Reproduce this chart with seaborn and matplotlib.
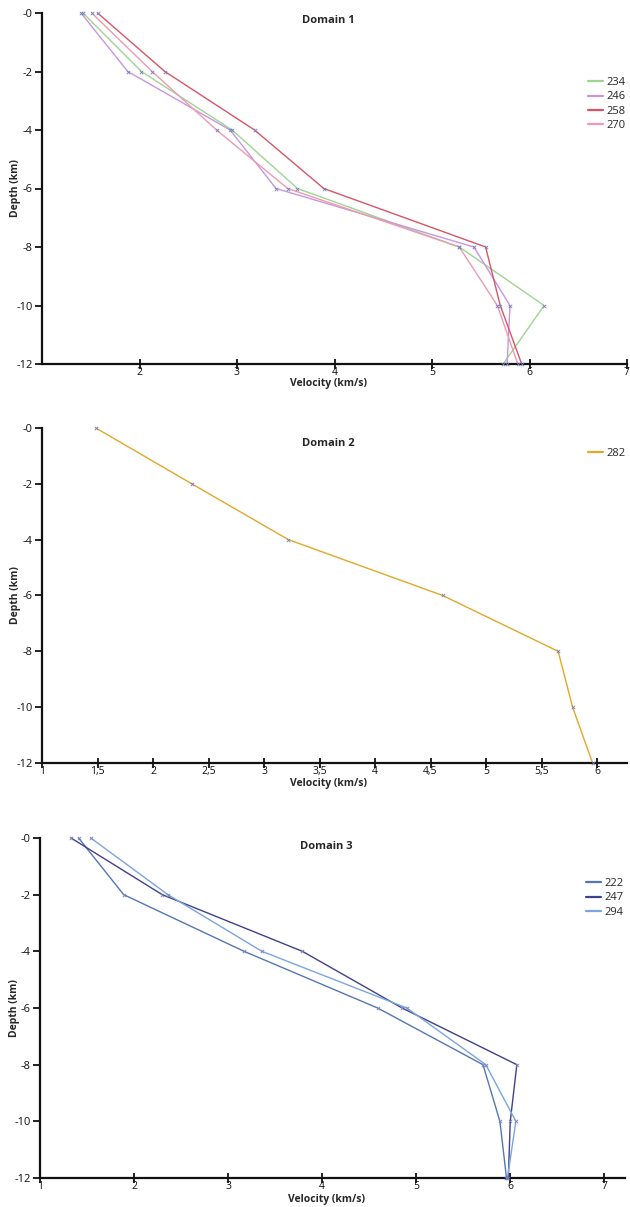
import numpy as np
import pandas as pd
import matplotlib
matplotlib.use("Agg")
import matplotlib.pyplot as plt
import seaborn as sns

sns.set_theme(style="white")
plt.rcParams["font.family"] = ["Open Sans", "DejaVu Sans"]

# Depth of each velocity sample (km, negative downwards)
depths = [0, -2, -4, -6, -8, -10, -12]
depth_ticks = [0, -2, -4, -6, -8, -10, -12]
depth_tick_labels = ["-0", "-2", "-4", "-6", "-8", "-10", "-12"]

# Domain 1 velocity profiles (km/s)
d1_names = ["234", "246", "258", "270"]
d1_234 = [1.42, 2.02, 2.95, 3.62, 5.28, 6.15, 5.73]
d1_246 = [1.40, 1.88, 2.93, 3.40, 5.43, 5.80, 5.77]
d1_258 = [1.57, 2.26, 3.18, 3.89, 5.55, 5.70, 5.92]
d1_270 = [1.51, 2.13, 2.79, 3.52, 5.28, 5.67, 5.88]
d1_colors = ["#9fd58f", "#c995e0", "#d85565", "#ee9ab0"]
d1_xticks = [2, 3, 4, 5, 6, 7]
d1_xtick_labels = ["2", "3", "4", "5", "6", "7"]

# Domain 2 velocity profile (km/s)
d2_names = ["282"]
d2_282 = [1.485, 2.35, 3.22, 4.61, 5.65, 5.78, 5.96]
d2_colors = ["#e3a72a"]
d2_xticks = [1, 1.5, 2, 2.5, 3, 3.5, 4, 4.5, 5, 5.5, 6]
d2_xtick_labels = ["1", "1,5", "2", "2,5", "3", "3,5", "4", "4,5", "5", "5,5", "6"]

# Domain 3 velocity profiles (km/s)
d3_names = ["222", "247", "294"]
d3_222 = [1.41, 1.89, 3.17, 4.59, 5.71, 5.89, 5.96]
d3_247 = [1.33, 2.30, 3.79, 4.85, 6.07, 6.00, 5.98]
d3_294 = [1.54, 2.36, 3.36, 4.90, 5.74, 6.06, 5.97]
d3_colors = ["#5576b5", "#40408e", "#79a6de"]
d3_xticks = [1, 2, 3, 4, 5, 6, 7]
d3_xtick_labels = ["1", "2", "3", "4", "5", "6", "7"]

marker_color = "#7380bd"

fig = plt.figure(figsize=(6.3, 12.07), dpi=100)
W, H = 630, 1207


def axes_px(left, top, right, bottom):
    return fig.add_axes([left / W, 1 - bottom / H, (right - left) / W, (bottom - top) / H])


panels = [
    dict(ax=axes_px(42, 13, 627, 364), title="Domain 1", names=d1_names,
         series=[d1_234, d1_246, d1_258, d1_270], colors=d1_colors,
         xlim=(1, 7), xticks=d1_xticks, xlabels=d1_xtick_labels,
         title_pos=(0.49, 0.98), leg_anchor=(0.925, 0.83),
         xlab_y=-0.056, ylab_x=-0.046),
    dict(ax=axes_px(42, 428, 627, 763), title="Domain 2", names=d2_names,
         series=[d2_282], colors=d2_colors,
         xlim=(1, 6.27), xticks=d2_xticks, xlabels=d2_xtick_labels,
         title_pos=(0.49, 0.955), leg_anchor=(0.925, 0.955),
         xlab_y=-0.062, ylab_x=-0.046),
    dict(ax=axes_px(40, 838, 625, 1178), title="Domain 3", names=d3_names,
         series=[d3_222, d3_247, d3_294], colors=d3_colors,
         xlim=(1, 7.22), xticks=d3_xticks, xlabels=d3_xtick_labels,
         title_pos=(0.49, 0.975), leg_anchor=(0.925, 0.895),
         xlab_y=-0.062, ylab_x=-0.044),
]

for p in panels:
    ax = p["ax"]
    frames = []
    for name, vel in zip(p["names"], p["series"]):
        frames.append(pd.DataFrame({"velocity": vel, "depth": depths, "station": name}))
    df = pd.concat(frames, ignore_index=True)

    sns.lineplot(data=df, x="velocity", y="depth", hue="station",
                 palette=dict(zip(p["names"], p["colors"])), sort=False,
                 estimator=None, linewidth=1.0, ax=ax, clip_on=False)
    sns.scatterplot(data=df, x="velocity", y="depth", marker="x", s=6,
                    color=marker_color, linewidth=0.6, ax=ax, clip_on=False,
                    legend=False, zorder=3)

    ax.set_xlim(*p["xlim"])
    ax.set_ylim(-12, 0)
    ax.set_yticks(depth_ticks)
    ax.set_yticklabels(depth_tick_labels)
    ax.set_xticks(p["xticks"])
    ax.set_xticklabels(p["xlabels"])

    for side in ("top", "right"):
        ax.spines[side].set_visible(False)
    for side in ("left", "bottom"):
        ax.spines[side].set_color("#111111")
        ax.spines[side].set_linewidth(1.6)

    ax.tick_params(axis="y", direction="out", length=5, width=1.3,
                   labelsize=8, pad=1.5, colors="#111111", left=True)
    ax.tick_params(axis="x", direction="inout", length=7, width=1.3,
                   labelsize=7.5, pad=-1.5, colors="#111111", bottom=True)

    ax.set_xlabel("Velocity (km/s)", fontsize=7.5, fontweight="bold")
    ax.set_ylabel("Depth (km)", fontsize=7.5, fontweight="bold")
    ax.xaxis.set_label_coords(0.49, p["xlab_y"])
    ax.xaxis.label.set_va("center")
    ax.yaxis.set_label_coords(p["ylab_x"], 0.5)
    ax.yaxis.label.set_va("center")

    ax.text(p["title_pos"][0], p["title_pos"][1], p["title"], transform=ax.transAxes,
            ha="center", va="center", fontsize=8, fontweight="bold")

    handles, labels = ax.get_legend_handles_labels()
    ax.legend(handles, labels, loc="upper left", bbox_to_anchor=p["leg_anchor"],
              frameon=False, fontsize=8, handlelength=1.4, handletextpad=0.3,
              labelspacing=0.3, borderaxespad=0)
    for line in ax.get_legend().get_lines():
        line.set_linewidth(1.6)

fig.savefig("out.png", dpi=100, facecolor="white")
